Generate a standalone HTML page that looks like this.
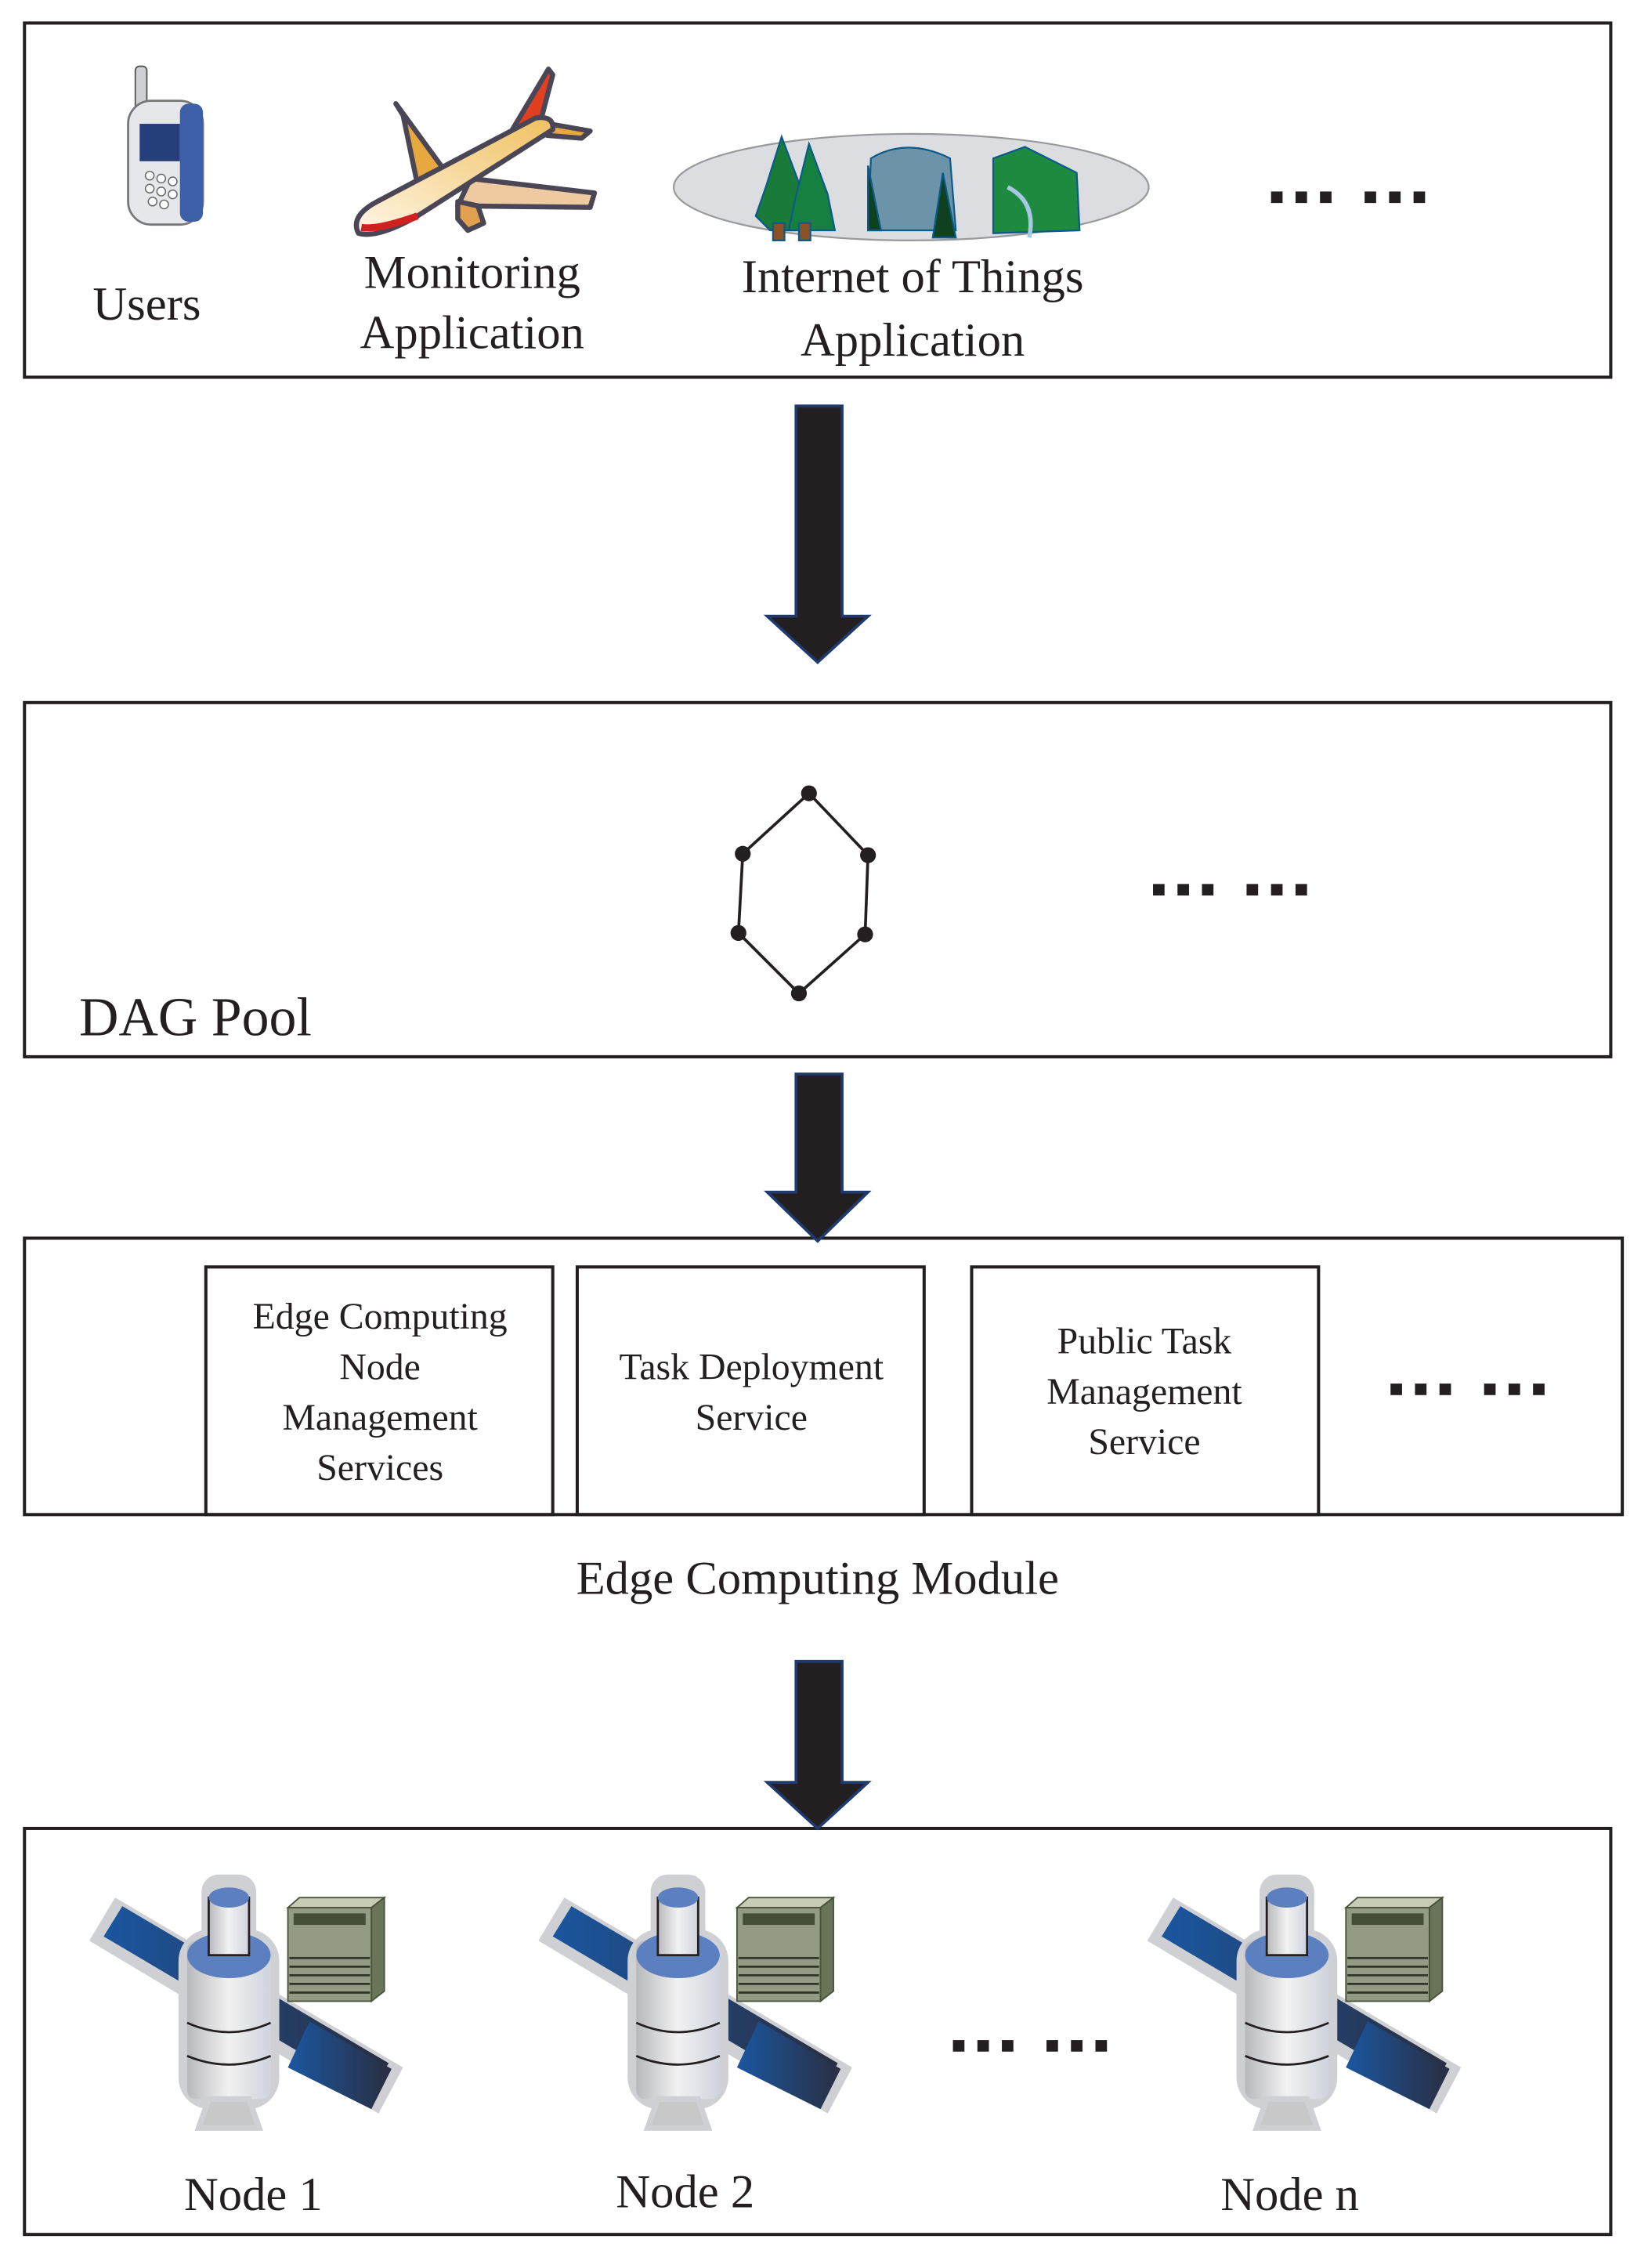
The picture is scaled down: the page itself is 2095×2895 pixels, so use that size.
<!DOCTYPE html>
<html><head><meta charset="utf-8"><style>
html,body{margin:0;padding:0;background:#fff}
svg{display:block}
text{font-family:"Liberation Serif",serif;fill:#231f20}
</style></head><body>
<svg width="2095" height="2895" viewBox="0 0 1140 1575.3" preserveAspectRatio="none" xmlns="http://www.w3.org/2000/svg">
<defs>
<linearGradient id="pan" x1="0" y1="0" x2="1" y2="0"><stop offset="0" stop-color="#1a56a0"/><stop offset="1" stop-color="#2a2e40"/></linearGradient>
<linearGradient id="bod" x1="0" y1="0" x2="1" y2="0"><stop offset="0" stop-color="#b8b9bd"/><stop offset=".5" stop-color="#f2f2f2"/><stop offset="1" stop-color="#cfd3dc"/></linearGradient>
<linearGradient id="fus" x1="0" y1="1" x2="1" y2="0"><stop offset="0" stop-color="#fff6e6"/><stop offset="1" stop-color="#f0c060"/></linearGradient>
<g id="sat">
<polygon points="62,1348 80,1318 280,1436 263,1468" fill="#cfd0d3"/>
<polygon points="72,1345 85,1324 270,1433 258,1455" fill="url(#pan)"/>
<rect x="124" y="1340" width="70" height="125" rx="22" fill="#cfd0d3"/>
<rect x="140" y="1302" width="38" height="50" rx="12" fill="#cfd0d3"/>
<rect x="130" y="1348" width="58" height="110" rx="6" fill="url(#bod)"/>
<ellipse cx="159" cy="1358" rx="29" ry="16" fill="#5c80bf"/>
<rect x="145" y="1318" width="28" height="40" fill="url(#bod)" stroke="#231f20" stroke-width="1.5"/>
<ellipse cx="159" cy="1318" rx="14" ry="7" fill="#5c80bf"/>
<path d="M130 1405 Q159 1418 188 1405 M130 1428 Q159 1440 188 1428" stroke="#231f20" stroke-width="1.5" fill="none"/>
<polygon points="145,1458 173,1458 180,1478 138,1478" fill="#c8c8c8" stroke="#cfd0d3" stroke-width="4"/>
<polygon points="200,1436 215,1404 272,1437 258,1465" fill="url(#pan)"/>
<polygon points="200,1325 208,1318 267,1318 258,1325" fill="#c9ccb5" stroke="#49533a"/>
<polygon points="258,1325 267,1318 267,1383 258,1390" fill="#6a7458" stroke="#49533a"/>
<rect x="200" y="1325" width="58" height="65" fill="#939b85" stroke="#49533a"/>
<rect x="204" y="1329" width="50" height="8" fill="#454e38"/>
<path d="M201 1360h56M201 1366h56M201 1372h56M201 1378h56M201 1384h56" stroke="#2f3626" stroke-width="1.5"/>
</g>
</defs>
<g fill="none" stroke="#231f20" stroke-width="2.2">
<rect x="17" y="16" width="1102" height="246"/>
<rect x="17" y="488" width="1102" height="246"/>
<rect x="17" y="860" width="1110" height="192"/>
<rect x="143" y="880" width="241" height="172"/>
<rect x="401" y="880" width="241" height="172"/>
<rect x="675" y="880" width="241" height="172"/>
<rect x="17" y="1270" width="1102" height="282"/>
</g>
<g fill="#231f20" stroke="#1f3a6e" stroke-width="2">
<polygon points="553,282 585,282 585,428 603,428 568,460 533,428 553,428"/>
<polygon points="553,746 585,746 585,828 603,828 568,862 533,828 553,828"/>
<polygon points="553,1154 585,1154 585,1238 603,1238 568,1270 533,1238 553,1238"/>
</g>
<!-- phone -->
<rect x="94" y="46" width="8" height="30" rx="3" fill="#cfd0d3" stroke="#555"/>
<rect x="89" y="70" width="52" height="86" rx="16" fill="#e6e7ea" stroke="#777" stroke-width="1.5"/>
<rect x="125" y="72" width="16" height="82" rx="6" fill="#3c5fa8"/>
<rect x="97" y="86" width="28" height="26" fill="#253f7a"/>
<g fill="#fff" stroke="#666" stroke-width=".8"><circle cx="104" cy="122" r="3"/><circle cx="112" cy="124" r="3"/><circle cx="120" cy="126" r="3"/><circle cx="104" cy="131" r="3"/><circle cx="112" cy="133" r="3"/><circle cx="120" cy="135" r="3"/><circle cx="106" cy="140" r="3"/><circle cx="114" cy="142" r="3"/></g>
<!-- plane -->
<g stroke="#4a4656" stroke-width="3.5" stroke-linejoin="round">
<polygon points="275,72 280,80 290,128 310,120" fill="#e8a840"/>
<polygon points="350,100 381,48 384,52 374,90" fill="#e04020"/>
<polygon points="370,84 410,91 404,96 380,94" fill="#e8a840"/>
<polygon points="327,124 413,134 410,144 318,143" fill="#efc9a0"/>
<polygon points="318,140 332,143 336,155 325,160 318,152" fill="#e0a050"/>
<path d="M249,162 Q243,150 262,140 L372,82 Q385,80 384,90 L290,150 Q262,166 249,162Z" fill="url(#fus)"/>
</g>
<path d="M251,158 Q262,160 290,150" stroke="#d02020" stroke-width="5" fill="none"/>
<!-- IoT -->
<ellipse cx="633" cy="130" rx="165" ry="37" fill="#dcdde0" stroke="#999" stroke-width="1.2"/>
<g stroke="#0a5a8a" stroke-width="1.2">
<path d="M543,95 L532,130 L525,150 L535,160 L552,160 L558,135Z" fill="#1a7a3a"/>
<path d="M562,100 L552,140 L548,160 L580,160 L575,135Z" fill="#158040"/>
<rect x="537" y="155" width="8" height="12" fill="#8a5028"/><rect x="555" y="155" width="8" height="12" fill="#8a5028"/>
<path d="M605,110 Q630,95 660,110 L664,160 L603,160Z" fill="#6d93a8"/>
<path d="M603,115 L612,160 L603,160Z M655,120 L664,165 L648,165Z" fill="#0f4020"/>
<path d="M690,110 L712,102 L748,120 L750,160 L690,162 Z" fill="#1e8a40"/>
<path d="M700,130 Q720,140 715,165" stroke="#a8c8e0" stroke-width="3" fill="none"/>
</g>
<!-- dots -->
<g fill="#231f20">
<rect x="883" y="133" width="8" height="8"/><rect x="900" y="133" width="8" height="8"/><rect x="917" y="133" width="8" height="8"/>
<rect x="948" y="133" width="8" height="8"/><rect x="965" y="133" width="8" height="8"/><rect x="982" y="133" width="8" height="8"/>
<rect x="801" y="614" width="8" height="8"/><rect x="818" y="614" width="8" height="8"/><rect x="835" y="614" width="8" height="8"/>
<rect x="866" y="614" width="8" height="8"/><rect x="883" y="614" width="8" height="8"/><rect x="900" y="614" width="8" height="8"/>
<rect x="966" y="961" width="8" height="8"/><rect x="983" y="961" width="8" height="8"/><rect x="1000" y="961" width="8" height="8"/>
<rect x="1031" y="961" width="8" height="8"/><rect x="1048" y="961" width="8" height="8"/><rect x="1065" y="961" width="8" height="8"/>
<rect x="662" y="1417" width="8" height="8"/><rect x="679" y="1417" width="8" height="8"/><rect x="696" y="1417" width="8" height="8"/>
<rect x="727" y="1417" width="8" height="8"/><rect x="744" y="1417" width="8" height="8"/><rect x="761" y="1417" width="8" height="8"/>
</g>
<!-- DAG -->
<polygon points="562,551 603,594 601,649 555,690 513,648 516,593" fill="none" stroke="#231f20" stroke-width="2"/>
<g fill="#231f20"><circle cx="562" cy="551" r="5.5"/><circle cx="603" cy="594" r="5.5"/><circle cx="601" cy="649" r="5.5"/><circle cx="555" cy="690" r="5.5"/><circle cx="513" cy="648" r="5.5"/><circle cx="516" cy="593" r="5.5"/></g>
<use href="#sat"/>
<use href="#sat" transform="translate(312,0)"/>
<use href="#sat" transform="translate(735,0)"/>
<!-- text -->
<g font-size="33" text-anchor="middle">
<text x="102" y="222">Users</text>
<text x="328" y="200">Monitoring</text>
<text x="328" y="242">Application</text>
<text x="634" y="203">Internet of Things</text>
<text x="634" y="247">Application</text>
<text x="568" y="1107">Edge Computing Module</text>
<text x="176" y="1535">Node  1</text>
<text x="476" y="1533">Node  2</text>
<text x="896" y="1535">Node  n</text>
</g>
<text x="55" y="719" font-size="38">DAG Pool</text>
<g font-size="26" text-anchor="middle">
<text x="264" y="923">Edge Computing</text>
<text x="264" y="958">Node</text>
<text x="264" y="993">Management</text>
<text x="264" y="1028">Services</text>
<text x="522" y="958">Task Deployment</text>
<text x="522" y="993">Service</text>
<text x="795" y="940">Public Task</text>
<text x="795" y="975">Management</text>
<text x="795" y="1010">Service</text>
</g>
</svg>
</body></html>
